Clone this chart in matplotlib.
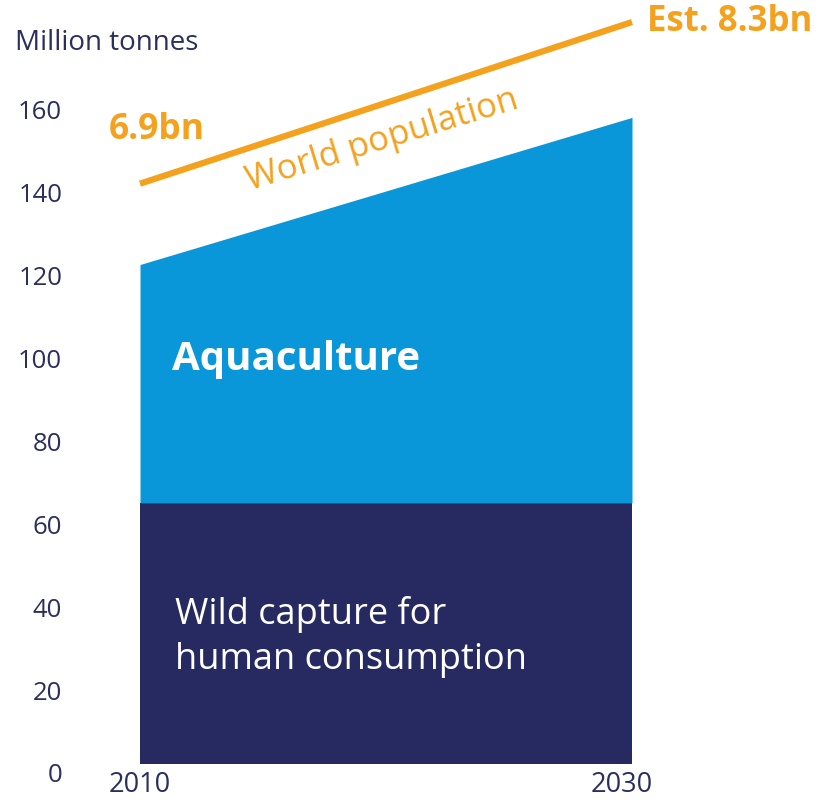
import matplotlib
matplotlib.use("Agg")
import matplotlib.pyplot as plt
import matplotlib.transforms as mtransforms

plt.rcParams['font.family'] = ['Open Sans', 'DejaVu Sans']

years = [2010, 2030]
wild_capture = [63, 63]
aquaculture_total = [120.5, 156]
population_line = [140, 179]
y_ticks = [0, 20, 40, 60, 80, 100, 120, 140, 160]
x_ticks = [2010, 2030]

NAVY = '#262A61'
BLUE = '#0A97D9'
ORANGE = '#F4A11E'
TEXT = '#2B2F5E'

fig = plt.figure(figsize=(8.17, 8.08), dpi=100)
ax = fig.add_axes([140/817, 44/808, 492/817, 764/808])
ax.set_xlim(2010, 2030)
ax.set_ylim(0, 764/4.145)

ax.fill_between(years, 0, wild_capture, color=NAVY, linewidth=0)
ax.fill_between(years, wild_capture, aquaculture_total, color=BLUE, linewidth=0)
ax.plot(years, population_line, color=ORANGE, lw=4.5, solid_capstyle='butt', clip_on=False)

for s in ax.spines.values():
    s.set_visible(False)
ax.set_yticks(y_ticks)
ax.set_yticklabels([str(v) for v in y_ticks], fontsize=18.5, color=TEXT)
ax.set_xticks(x_ticks)
ax.set_xticklabels([str(v) for v in x_ticks], fontsize=19.5, color=TEXT)
ax.tick_params(axis='y', length=0, pad=56)
ax.tick_params(axis='x', length=0, pad=5)
off = mtransforms.ScaledTranslation(0, -9/100, fig.dpi_scale_trans)
for lbl in ax.get_yticklabels():
    lbl.set_transform(lbl.get_transform() + off)
x_shifts = [0, -10]
for lbl, dx in zip(ax.get_xticklabels(), x_shifts):
    lbl.set_transform(lbl.get_transform() + mtransforms.ScaledTranslation(dx/100, 0, fig.dpi_scale_trans))

fig.text(15/817, 1 - 43/808, 'Million tonnes', fontsize=20, color=TEXT, ha='left', va='center')
fig.text(157/817, 1 - 130/808, '6.9bn', fontsize=25.5, color=ORANGE, fontweight='bold', ha='center', va='center')
fig.text(730/817, 1 - 22/808, 'Est. 8.3bn', fontsize=25, color=ORANGE, fontweight='bold', ha='center', va='center')
fig.text(382/817, 1 - 140/808, 'World population', fontsize=25, color=ORANGE, rotation=17,
         ha='center', va='center', rotation_mode='anchor')
fig.text(172/817, 1 - 360/808, 'Aquaculture', fontsize=29, color='white', fontweight='bold', ha='left', va='center')
fig.text(175/817, 1 - 637/808, 'Wild capture for\nhuman consumption', fontsize=26, color='white',
         ha='left', va='center', linespacing=1.3)

fig.savefig('out.png', dpi=100)
